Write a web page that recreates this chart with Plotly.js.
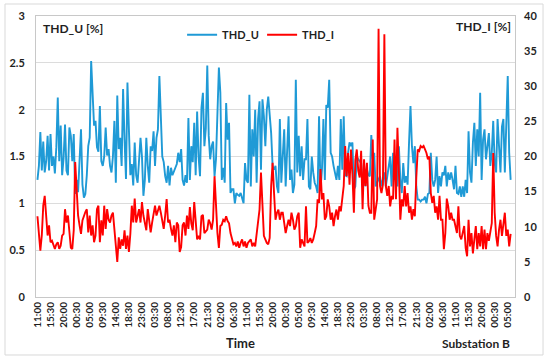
<!DOCTYPE html>
<html>
<head>
<meta charset="utf-8">
<script src="https://cdn.plot.ly/plotly-3.0.1.min.js"></script>
<style>
html,body{margin:0;padding:0;background:#fff;}
#chart{width:550px;height:362px;}
</style>
</head>
<body>
<div id="chart"></div>
<script>
// Tick labels (one every 9 samples, 30-min sampling)
const tickLabels = ["11:00","15:30","20:00","00:30","05:00","09:30","14:00","18:30","23:00","03:30","08:00","12:30","17:00","21:30","02:00","06:30","11:00","15:30","20:00","00:30","05:00","09:30","14:00","18:30","23:00","03:30","08:00","12:30","17:00","21:30","02:00","06:30","11:00","15:30","20:00","00:30","05:00"];

// THD_U [%] (left axis)
const thdU = [
1.25,1.4,1.76,1.35,1.66,1.33,1.45,1.72,1.35,1.74,
1.4,1.5,1.32,1.6,2.13,1.45,1.83,1.3,1.48,1.84,
1.35,1.3,1.81,1.72,1.45,1.74,1.1,1.25,1.12,1.4,
1.79,1.2,1.06,1.1,1.3,1.61,1.7,2.52,2.22,1.83,
1.88,1.6,1.55,2.04,1.45,1.4,1.5,1.81,1.51,1.58,
1.4,1.33,1.5,1.88,1.22,2.15,1.58,1.7,1.4,2.22,
1.68,1.26,2.29,1.83,1.3,1.42,1.19,1.65,1.3,1.22,
1.47,1.7,1.5,1.08,1.25,1.7,1.4,1.22,1.61,1.56,
1.77,1.4,1.7,1.79,2.36,1.93,1.5,1.44,1.29,1.22,
1.4,1.19,1.38,1.3,1.34,1.36,1.42,1.54,1.44,1.58,
1.25,1.19,1.3,1.22,1.91,1.25,1.61,1.44,1.86,
1.3,1.98,1.5,1.29,2.02,2.18,1.61,1.8,2.47,1.72,
1.47,1.61,1.66,1.29,1.47,1.9,2.45,2.18,1.25,1.38,
1.22,2.07,1.68,1.86,1.11,1.15,1.15,1.0,1.11,1.09,
1.08,1.11,1.05,1.0,1.43,1.25,1.22,2.16,1.18,1.79,
1.5,2.0,1.22,1.9,2.09,1.36,2.11,1.93,1.61,2.0,
2.14,1.93,1.75,1.4,1.36,1.4,1.18,1.11,1.9,1.22,
1.47,1.79,1.18,1.5,1.93,1.25,1.36,1.11,1.2,2.32,
1.33,1.72,1.29,1.61,1.25,1.47,1.47,1.9,1.18,1.15,
1.5,1.33,1.22,1.18,1.11,1.93,1.15,1.36,1.9,1.25,
2.05,2.02,2.32,1.54,1.5,1.4,1.33,1.25,1.4,1.25,
1.9,1.36,1.93,1.3,1.29,1.54,1.65,1.61,1.65,
1.15,1.18,1.5,1.47,1.45,1.43,1.18,1.29,1.18,1.36,
1.3,1.29,1.73,1.47,1.54,1.18,1.22,1.25,1.29,1.18,
1.25,1.33,1.18,1.29,1.4,1.5,1.18,1.54,1.25,1.36,
1.18,1.61,1.25,1.11,1.43,1.22,1.29,1.2,1.65,2.04,
1.61,1.43,1.61,1.18,1.04,1.04,1.02,1.04,1.04,1.07,
1.0,1.1,1.11,1.54,1.25,1.18,1.25,1.5,1.11,1.29,
1.18,1.33,1.3,1.4,1.18,1.33,1.25,1.33,1.25,1.15,
1.4,1.11,1.1,1.18,1.07,1.18,1.07,1.25,1.11,1.77,
1.33,1.22,1.65,1.86,1.4,1.79,1.5,2.18,1.25,1.68,
1.79,1.47,1.61,1.75,1.4,1.54,1.88,1.43,1.33,1.9,
1.61,1.33,1.82,1.9,1.33,1.82,2.36,1.54,1.25
];

// THD_I [%] (right axis)
const thdI = [
11.5,9.0,6.6,8.8,13.0,14.4,10.6,8.75,10.2,7.8,
8.0,7.3,6.85,7.5,7.8,6.85,7.3,8.75,9.0,12.5,
10.6,11.6,9.0,7.0,6.85,9.5,19.2,14.4,11.6,10.2,
9.0,10.9,11.6,12.1,12.5,9.2,11.6,8.75,10.2,7.8,
8.75,12.5,13.0,7.8,10.9,8.75,13.0,9.7,12.5,11.0,
10.6,11.6,12.0,9.2,6.4,5.0,8.5,6.85,8.2,7.3,
9.5,6.85,8.75,6.4,9.0,13.0,10.6,14.0,10.6,11.6,
12.5,10.6,13.5,11.6,10.2,9.5,12.5,11.0,9.2,10.6,
12.0,13.0,11.6,12.5,13.0,12.0,10.6,9.7,11.6,13.95,
10.6,11.0,9.7,8.75,10.2,7.8,10.6,10.2,6.4,7.1,
10.2,10.6,8.75,11.6,9.7,12.8,10.5,9.5,13.5,
10.5,8.2,8.7,8.2,11.5,11.7,9.1,9.4,9.6,11.0,
10.5,9.6,11.0,17.2,12.9,9.1,7.0,10.1,10.3,11.0,
10.8,11.5,10.8,10.5,9.1,8.2,7.5,7.7,7.2,7.9,
7.0,7.7,8.2,7.2,7.9,7.0,7.7,7.95,8.2,7.2,
7.7,7.2,9.0,11.0,12.45,17.7,12.0,8.7,8.2,7.7,
7.5,8.4,15.8,19.1,14.8,11.0,12.0,12.45,11.0,12.0,
12.0,10.55,9.1,10.1,11.0,10.1,12.0,11.0,9.6,10.1,
11.5,12.0,7.0,8.2,7.7,7.2,12.9,7.7,7.9,8.4,
7.7,8.2,9.1,10.1,13.9,13.4,18.2,13.9,14.8,11.0,
11.5,13.9,12.9,11.0,12.0,10.1,11.5,12.45,11.0,12.9,
12.2,13.9,15.8,21.5,17.2,20.5,16.0,21.0,17.5,
12.0,19.5,21.0,18.0,17.0,20.8,12.5,19.6,15.8,19.1,
13.0,12.0,12.0,22.4,11.0,12.9,13.9,38.2,15.8,14.8,
16.0,37.4,15.8,14.4,15.8,12.9,14.4,13.9,22.4,13.9,
24.1,18.0,11.0,13.9,12.9,15.8,12.9,14.8,12.0,12.9,
11.0,12.5,11.5,17.0,21.0,20.8,21.5,21.3,21.5,21.0,
20.5,19.6,20.0,14.8,13.4,14.4,12.0,12.9,11.0,14.4,
11.0,11.0,6.8,9.1,14.0,12.9,11.0,12.0,11.0,11.0,
10.1,9.1,12.9,8.7,8.2,9.1,10.1,7.0,5.8,11.0,
7.2,9.1,6.2,8.2,10.1,6.8,9.1,7.2,10.1,6.8,
9.6,6.8,9.1,8.0,9.6,10.5,20.5,12.0,8.7,7.2,
9.6,11.0,8.7,10.5,12.0,8.7,9.6,7.2,9.0
];

const LABEL_STEP = 9;
const xIdx = thdU.map((_, i) => i);
const tickVals = tickLabels.map((_, k) => k * LABEL_STEP);

const FONT = 'Lato, "Open Sans", "Liberation Sans", sans-serif';
const TXT = '#1F1F1F';

const traces = [
  {x: xIdx, y: thdU, name: 'THD_U', type: 'scatter', mode: 'lines',
   line: {color: '#1F9AD6', width: 1.9}, yaxis: 'y'},
  {x: xIdx, y: thdI, name: 'THD_I', type: 'scatter', mode: 'lines',
   line: {color: '#FF0000', width: 1.9}, yaxis: 'y2'}
];

const layout = {
  width: 550, height: 362,
  margin: {l: 36, r: 35, t: 16, b: 65},
  paper_bgcolor: '#fff', plot_bgcolor: '#fff',
  font: {family: FONT, color: TXT},
  showlegend: true,
  legend: {orientation: 'h', x: 0.305, y: 0.985, xanchor: 'left', yanchor: 'top',
           bgcolor: 'rgba(0,0,0,0)', itemwidth: 30, entrywidth: 35, entrywidthmode: 'pixels',
           font: {size: 11, weight: 'bold', color: TXT, family: FONT}},
  xaxis: {range: [-1, 329], tickmode: 'array', tickvals: tickVals, ticktext: tickLabels,
          tickangle: -90, tickfont: {size: 10, weight: 'bold', color: TXT, family: FONT},
          showgrid: false, zeroline: false, showline: true, linecolor: '#C8C8C8',
          linewidth: 1, mirror: true, ticks: ''},
  yaxis: {range: [0, 3], dtick: 0.5, tickfont: {size: 11, weight: 'bold', color: TXT, family: FONT},
          gridcolor: '#DCDCDC', gridwidth: 1, zeroline: false, showline: true,
          linecolor: '#C8C8C8', mirror: true, ticks: '', ticklabelstandoff: 8},
  yaxis2: {range: [0, 40], dtick: 5, overlaying: 'y', side: 'right', showgrid: false,
           zeroline: false, showline: false, ticks: '',
           tickfont: {size: 11, weight: 'bold', color: TXT, family: FONT}, ticklabelstandoff: 8},
  annotations: [
    {text: 'THD_U [%]', xref: 'paper', yref: 'paper', x: 0.01, y: 0.957, xanchor: 'left', yanchor: 'middle',
     showarrow: false, font: {size: 12, weight: 'bold', color: TXT, family: FONT}},
    {text: 'THD_I [%]', xref: 'paper', yref: 'paper', x: 0.996, y: 0.962, xanchor: 'right', yanchor: 'middle',
     showarrow: false, font: {size: 12, weight: 'bold', color: TXT, family: FONT}},
    {text: 'Time', xref: 'paper', yref: 'paper', x: 0.426, y: -0.164, xanchor: 'center', yanchor: 'middle',
     showarrow: false, font: {size: 13, weight: 'bold', color: TXT, family: FONT}},
    {text: 'Substation B', xref: 'paper', yref: 'paper', x: 0.994, y: -0.167, xanchor: 'right', yanchor: 'middle',
     showarrow: false, font: {size: 12, weight: 'bold', color: TXT, family: FONT}}
  ],
  shapes: [
    {type: 'rect', xref: 'paper', yref: 'paper', x0: -0.0647, x1: 1.0585, y0: -0.2064, y1: 1.0427,
     line: {color: '#D9D9D9', width: 1}, fillcolor: 'rgba(0,0,0,0)', layer: 'below'}
  ]
};

Plotly.newPlot('chart', traces, layout, {staticPlot: true, displayModeBar: false});
</script>
</body>
</html>
